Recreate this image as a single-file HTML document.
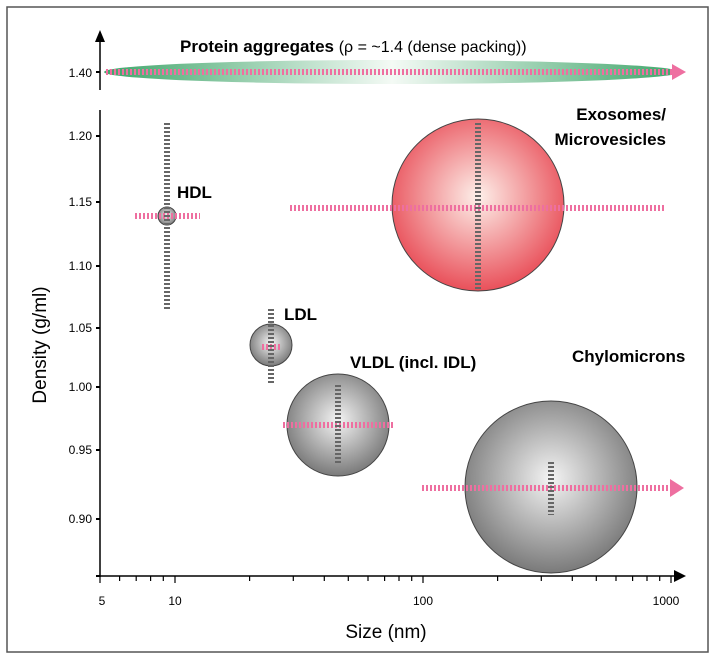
<!DOCTYPE html>
<html><head><meta charset="utf-8"><style>body{margin:0;background:#fff}svg{display:block}</style></head><body>
<svg width="715" height="660" viewBox="0 0 715 660" font-family="Liberation Sans, sans-serif">
<defs>
<radialGradient id="g" cx="0.5" cy="0.45" r="0.55"><stop offset="0" stop-color="#f4f4f4"/><stop offset="1" stop-color="#7a7a7a"/></radialGradient>
<radialGradient id="r" cx="0.5" cy="0.45" r="0.55"><stop offset="0" stop-color="#fdf0ea"/><stop offset="1" stop-color="#e9505a"/></radialGradient>
<linearGradient id="gr" x1="0" y1="0" x2="1" y2="0"><stop offset="0" stop-color="#3fa56a"/><stop offset="0.5" stop-color="#f4faf5"/><stop offset="1" stop-color="#3fa56a"/></linearGradient>
</defs>
<rect x="7" y="7" width="701" height="645" fill="none" stroke="#555" stroke-width="1.5"/>
<line x1="100" y1="40" x2="100" y2="90" stroke="#000" stroke-width="1.5"/>
<polygon points="95,42 105,42 100,30" fill="#000"/>
<line x1="96" y1="72" x2="100" y2="72" stroke="#000" stroke-width="2"/>
<text x="92" y="77" font-size="12" text-anchor="end">1.40</text>
<ellipse cx="392" cy="72" rx="288" ry="12" fill="url(#gr)"/>
<line x1="106" y1="72" x2="672" y2="72" stroke="#ee6fa0" stroke-width="6" stroke-dasharray="2,2"/>
<polygon points="672,64 686,72 672,80" fill="#ee6fa0"/>
<text x="180" y="52" font-size="17" font-weight="bold">Protein aggregates <tspan font-weight="normal" font-size="16">(ρ = ~1.4 (dense packing))</tspan></text>
<line x1="100" y1="110" x2="100" y2="577" stroke="#000" stroke-width="1.5"/>
<g font-size="12" text-anchor="end">
<text x="92" y="140">1.20</text><text x="92" y="206">1.15</text><text x="92" y="270">1.10</text><text x="92" y="332">1.05</text><text x="92" y="391">1.00</text><text x="92" y="454">0.95</text><text x="92" y="523">0.90</text>
</g>
<g stroke="#000" stroke-width="2"><line x1="96" y1="136" x2="100" y2="136"/><line x1="96" y1="202" x2="100" y2="202"/><line x1="96" y1="266" x2="100" y2="266"/><line x1="96" y1="328" x2="100" y2="328"/><line x1="96" y1="387" x2="100" y2="387"/><line x1="96" y1="450" x2="100" y2="450"/><line x1="96" y1="519" x2="100" y2="519"/><line x1="96" y1="576" x2="100" y2="576"/></g>
<text transform="translate(46,345) rotate(-90)" font-size="19" text-anchor="middle">Density (g/ml)</text>
<line x1="100" y1="576" x2="676" y2="576" stroke="#000" stroke-width="1.5"/>
<polygon points="674,570 686,576 674,582" fill="#000"/>
<g stroke="#000" stroke-width="1.2">
<line x1="100" y1="576" x2="100" y2="583"/><line x1="119.6" y1="576" x2="119.6" y2="581"/><line x1="136.2" y1="576" x2="136.2" y2="581"/><line x1="150.6" y1="576" x2="150.6" y2="581"/><line x1="163.3" y1="576" x2="163.3" y2="581"/><line x1="175" y1="576" x2="175" y2="583"/>
<line x1="249.6" y1="576" x2="249.6" y2="581"/><line x1="293.3" y1="576" x2="293.3" y2="581"/><line x1="324.3" y1="576" x2="324.3" y2="581"/><line x1="348.3" y1="576" x2="348.3" y2="581"/><line x1="368" y1="576" x2="368" y2="581"/><line x1="384.6" y1="576" x2="384.6" y2="581"/><line x1="399" y1="576" x2="399" y2="581"/><line x1="411.7" y1="576" x2="411.7" y2="581"/><line x1="423" y1="576" x2="423" y2="583"/>
<line x1="497.6" y1="576" x2="497.6" y2="581"/><line x1="541.3" y1="576" x2="541.3" y2="581"/><line x1="572.3" y1="576" x2="572.3" y2="581"/><line x1="596.3" y1="576" x2="596.3" y2="581"/><line x1="616" y1="576" x2="616" y2="581"/><line x1="632.6" y1="576" x2="632.6" y2="581"/><line x1="647" y1="576" x2="647" y2="581"/><line x1="659.7" y1="576" x2="659.7" y2="581"/><line x1="671" y1="576" x2="671" y2="583"/>
</g>
<g font-size="12" text-anchor="middle"><text x="102" y="605">5</text><text x="175" y="605">10</text><text x="423" y="605">100</text><text x="666" y="605">1000</text></g>
<text x="386" y="638" font-size="19" text-anchor="middle">Size (nm)</text>
<g stroke="#444" stroke-width="1">
<circle cx="478" cy="205" r="86" fill="url(#r)"/>
<circle cx="551" cy="487" r="86" fill="url(#g)"/>
<circle cx="338" cy="425" r="51" fill="url(#g)"/>
<circle cx="271" cy="345" r="21" fill="url(#g)"/>
<circle cx="167" cy="216" r="9" fill="url(#g)"/>
</g>
<g stroke="#ee6fa0" stroke-width="6" stroke-dasharray="2,2">
<line x1="135" y1="216" x2="200" y2="216"/>
<line x1="262" y1="347" x2="282" y2="347"/>
<line x1="283" y1="425" x2="395" y2="425"/>
<line x1="290" y1="208" x2="666" y2="208"/>
<line x1="422" y1="488" x2="670" y2="488"/>
</g>
<polygon points="670,479 684,488 670,497" fill="#ee6fa0"/>
<g stroke="#666" stroke-width="6" stroke-dasharray="2,2">
<line x1="167" y1="123" x2="167" y2="310"/>
<line x1="271" y1="309" x2="271" y2="385"/>
<line x1="338" y1="385" x2="338" y2="465"/>
<line x1="478" y1="123" x2="478" y2="290"/>
<line x1="551" y1="462" x2="551" y2="515"/>
</g>
<g font-size="17" font-weight="bold">
<text x="177" y="198">HDL</text>
<text x="284" y="320">LDL</text>
<text x="350" y="368">VLDL (incl. IDL)</text>
<text x="666" y="120" text-anchor="end">Exosomes/</text>
<text x="666" y="145" text-anchor="end">Microvesicles</text>
<text x="572" y="362">Chylomicrons</text>
</g>
</svg>
</body></html>
